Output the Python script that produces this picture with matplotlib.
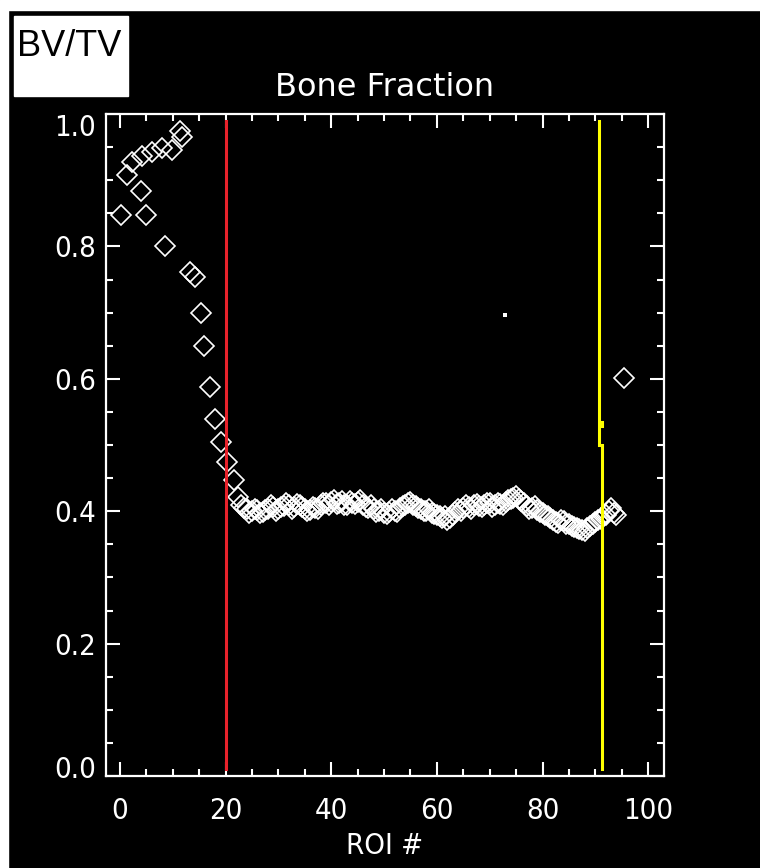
import matplotlib
matplotlib.use('Agg')
import matplotlib.pyplot as plt
from matplotlib.patches import Rectangle
from matplotlib.ticker import MultipleLocator
import matplotlib.transforms as mtrans

# ROI number and bone fraction (BV/TV) per region
roi = [0.2, 1.3, 2.2, 4.0, 4.1, 5.0, 6.0, 7.9, 8.5, 9.8, 11.4, 11.7, 13.3, 14.2,
       15.3, 15.9, 17.0, 18.0, 19.1, 20.2, 21.5, 22.4,
       23, 24, 25, 26, 27, 28, 29, 30, 31, 32, 33, 34, 35, 36, 37, 38, 39, 40,
       41, 42, 43, 44, 45, 46, 47, 48, 49, 50, 51, 52, 53, 54, 55, 56, 57, 58,
       59, 60, 61, 62, 63, 64, 65, 66, 67, 68, 69, 70, 71, 72, 73, 74, 75, 76,
       77, 78, 79, 80, 81, 82, 83, 84, 85, 86, 87, 88, 89, 90, 91, 92, 93, 94,
       95.5]
bvtv = [0.847, 0.908, 0.928, 0.883, 0.936, 0.847, 0.943, 0.949, 0.800, 0.946,
        0.975, 0.965, 0.762, 0.754, 0.700, 0.649, 0.588, 0.540, 0.505, 0.475,
        0.447, 0.422,
        0.410, 0.403, 0.400, 0.402, 0.399, 0.404, 0.406, 0.403, 0.408, 0.409,
        0.407, 0.410, 0.404, 0.402, 0.405, 0.409, 0.412, 0.414, 0.411, 0.416,
        0.410, 0.413, 0.414, 0.409, 0.405, 0.403, 0.400, 0.398, 0.399, 0.401,
        0.405, 0.410, 0.414, 0.408, 0.403, 0.400, 0.398, 0.394, 0.390, 0.387,
        0.394, 0.404, 0.405, 0.407, 0.409, 0.408, 0.410, 0.412, 0.409, 0.411,
        0.414, 0.418, 0.423, 0.416, 0.408, 0.405, 0.402, 0.398, 0.392, 0.386,
        0.382, 0.385, 0.380, 0.376, 0.373, 0.370, 0.378, 0.384, 0.388, 0.395,
        0.405, 0.394,
        0.601]

# second pass of sub-regions (half steps) in the plateau
roi_half = [23.5, 24.5, 25.5, 26.5, 27.5, 28.5, 29.5, 30.5, 31.5, 32.5, 33.5,
            34.5, 35.5, 36.5, 37.5, 38.5, 39.5, 40.5, 41.5, 42.5, 43.5, 44.5,
            45.5, 46.5, 47.5, 48.5, 49.5, 50.5, 51.5, 52.5, 53.5, 54.5, 55.5,
            56.5, 57.5, 58.5, 59.5, 60.5, 61.5, 62.5, 63.5, 64.5, 65.5, 66.5,
            67.5, 68.5, 69.5, 70.5, 71.5, 72.5, 73.5, 74.5, 75.5, 76.5, 77.5,
            78.5, 79.5, 80.5, 81.5, 82.5, 83.5, 84.5, 85.5, 86.5, 87.5, 88.5,
            89.5, 90.5, 91.5, 92.5, 93.5]
bvtv_half = [0.405, 0.398, 0.404, 0.397, 0.402, 0.409, 0.401, 0.407, 0.412,
             0.404, 0.411, 0.407, 0.400, 0.406, 0.403, 0.413, 0.409, 0.417,
             0.412, 0.409, 0.416, 0.411, 0.417, 0.406, 0.409, 0.399, 0.403,
             0.396, 0.403, 0.399, 0.408, 0.413, 0.410, 0.405, 0.401, 0.404,
             0.396, 0.392, 0.393, 0.389, 0.399, 0.401, 0.409, 0.404, 0.411,
             0.406, 0.413, 0.407, 0.413, 0.409, 0.417, 0.420, 0.419, 0.412,
             0.404, 0.408, 0.399, 0.395, 0.389, 0.384, 0.387, 0.381, 0.378,
             0.374, 0.371, 0.375, 0.381, 0.386, 0.392, 0.401, 0.398]

# start / end markers of the analysed range
red_x = 20
yel_top_x = 90.6
yel_bot_x = 91.2
yel_break = 0.5

stray_x = [72.9]
stray_y = [0.696]

xticks = [0, 20, 40, 60, 80, 100]
yticks = [0.0, 0.2, 0.4, 0.6, 0.8, 1.0]
ylabels = ['0.0', '0.2', '0.4', '0.6', '0.8', '1.0']

W, H = 760, 868
tfont = dict(family='DejaVu Sans', stretch='condensed')

fig = plt.figure(figsize=(W / 100, H / 100), dpi=100, facecolor='black')
# white screen margin top and left
fig.patches.append(Rectangle((0, 1 - 10 / H), 1, 10 / H, color='white',
                             transform=fig.transFigure, zorder=0))
fig.patches.append(Rectangle((0, 0), 8 / W, 1, color='white',
                             transform=fig.transFigure, zorder=0))
# BV/TV tag box
fig.patches.append(Rectangle((14 / W, 1 - 96 / H), 114 / W, 80 / H, color='white',
                             transform=fig.transFigure, zorder=1))
fig.text(17 / W, 1 - 56 / H, 'BV/TV', family=['Liberation Sans', 'DejaVu Sans'],
         fontsize=26, color='black', va='baseline', ha='left')

fig.text(385 / W, 1 - 88 / H, 'Bone Fraction', ha='center', va='center',
         color='white', fontsize=23, family='DejaVu Sans')

ax = fig.add_axes([106 / W, 1 - 776 / H, (664 - 106) / W, (776 - 114) / H])
ax.set_facecolor('black')

ax.plot(roi, bvtv, ls='none', marker='D', ms=10, mfc='none', mec='white', mew=1.2)
ax.plot(roi_half, bvtv_half, ls='none', marker='D', ms=10, mfc='none',
        mec='white', mew=1.2)
ax.plot(stray_x, stray_y, ls='none', marker='s', ms=2.2, color='white', mew=0)

ax.plot([red_x, red_x], [0.01, 0.99], color='#e8222b', lw=2.2)
ax.plot([yel_top_x, yel_top_x], [yel_break, 0.99], color='#ffff00', lw=2.2)
ax.plot([yel_bot_x, yel_bot_x], [0.01, yel_break], color='#ffff00', lw=2.2)
ax.plot([yel_bot_x, yel_bot_x], [0.528, 0.534], color='#ffff00', lw=2.2)

ax.set_xlim(-2.65, 103.0)
ax.set_ylim(0, 1)
ax.set_xticks(xticks)
ax.set_yticks(yticks)
ax.set_yticklabels(ylabels)
ax.xaxis.set_minor_locator(MultipleLocator(5))
ax.yaxis.set_minor_locator(MultipleLocator(0.05))

for s in ax.spines.values():
    s.set_color('white')
    s.set_linewidth(1.6)

ax.tick_params(which='both', direction='in', color='white', width=1.5,
               top=True, right=True, labelcolor='white', labelsize=21)
ax.tick_params(which='major', length=10)
ax.tick_params(which='minor', length=5)
ax.tick_params(axis='x', pad=15)
ax.tick_params(axis='y', pad=7)
for lab in ax.get_xticklabels() + ax.get_yticklabels():
    lab.set_family(tfont['family'])
    lab.set_stretch(tfont['stretch'])

ax.set_xlabel('ROI #', color='white', fontsize=21, labelpad=5, **tfont)

# end labels on the y axis sit inside the frame
ylabs = ax.get_yticklabels()
ylabs[0].set_transform(ylabs[0].get_transform() +
                       mtrans.ScaledTranslation(0, 9 / 100, fig.dpi_scale_trans))
ylabs[-1].set_transform(ylabs[-1].get_transform() +
                        mtrans.ScaledTranslation(0, -11 / 100, fig.dpi_scale_trans))

plt.savefig('out.png', dpi=100, facecolor='black')
